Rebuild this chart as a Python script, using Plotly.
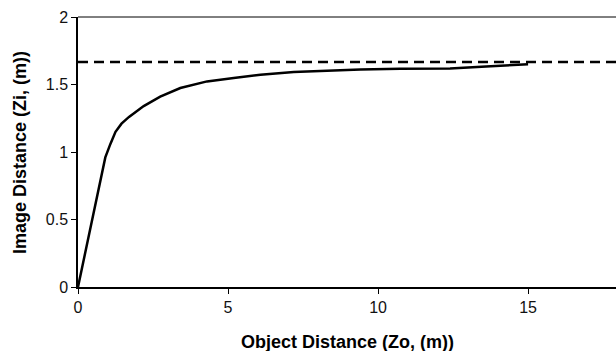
import plotly.graph_objects as go

# Data
object_distance = [0, 0.58, 0.91, 1.08, 1.25, 1.45, 1.7, 2.19, 2.74, 3.41, 4.3, 5.19, 6.08, 7.19, 8.3, 9.41, 10.74, 12.4, 13.6, 15.0]
image_distance = [0, 0.61, 0.96, 1.06, 1.15, 1.21, 1.26, 1.34, 1.41, 1.474, 1.523, 1.548, 1.572, 1.593, 1.604, 1.612, 1.616, 1.618, 1.633, 1.65]
focal_asymptote = 1.667
x_ticks = [0, 5, 10, 15]
y_ticks = [0, 0.5, 1, 1.5, 2]
x_range = [0, 17.93]

fig = go.Figure()
fig.add_trace(go.Scatter(x=object_distance, y=image_distance, mode="lines",
                         line=dict(color="black", width=2.5), showlegend=False))
fig.add_trace(go.Scatter(x=x_range, y=[focal_asymptote, focal_asymptote], mode="lines",
                         line=dict(color="black", width=2.5, dash="10px,6px"), showlegend=False))

font = "Liberation Sans, Arial, sans-serif"
fig.update_layout(
    width=616, height=351,
    margin=dict(l=78, r=0, t=17, b=64),
    plot_bgcolor="white", paper_bgcolor="white",
    font=dict(family=font, size=16, color="#111"),
    xaxis=dict(range=x_range, tickvals=x_ticks, showgrid=False, zeroline=False,
               showline=True, linecolor="black", linewidth=2,
               ticks="outside", ticklen=5, tickcolor="black", tickwidth=1),
    yaxis=dict(range=[0, 2], tickvals=y_ticks, showgrid=False, zeroline=False,
               showline=True, linecolor="black", linewidth=1.5,
               ticks="outside", ticklen=5, tickcolor="black", tickwidth=1),
    shapes=[dict(type="line", xref="paper", yref="paper", x0=0, x1=1, y0=1, y1=1,
                 line=dict(color="black", width=1))],
    annotations=[
        dict(text="<b>Object Distance (Zo, (m))</b>", xref="paper", yref="paper",
             x=0.5, y=-(342 - 287) / 270, showarrow=False,
             font=dict(family=font, size=18, color="black"), yanchor="middle"),
        dict(text="<b>Image Distance (Zi, (m))</b>", xref="paper", yref="paper",
             x=-(78 - 20) / 538, y=(287 - 153) / 270, showarrow=False, textangle=-90,
             font=dict(family=font, size=18, color="black"), xanchor="center", yanchor="middle"),
    ],
)
fig.write_html("out.html", config={"displayModeBar": False},
               post_script="document.body.style.margin='0';document.body.style.overflow='hidden';")
